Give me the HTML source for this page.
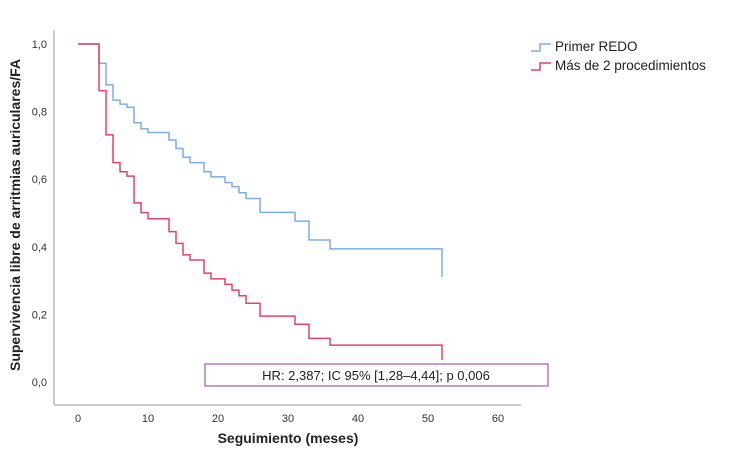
<!DOCTYPE html>
<html><head><meta charset="utf-8"><style>
body{margin:0;background:#fff;}
svg{display:block;font-family:"Liberation Sans",sans-serif;}
</style></head><body>
<svg id="chart" width="750" height="450">
<line x1="54" y1="30" x2="54" y2="405" stroke="#bbb" stroke-width="1.5"/>
<line x1="54" y1="405" x2="521" y2="405" stroke="#bbb" stroke-width="1.5"/>
<g id="yt"></g>
<g id="xt"></g>
<g id="series"></g>
<text x="0" y="0" transform="translate(20,215) rotate(-90)" text-anchor="middle" font-size="14" font-weight="bold" fill="#222">Supervivencia libre de arritmias auriculares/FA</text>
<text x="288" y="443" text-anchor="middle" font-size="14" font-weight="bold" fill="#222">Seguimiento (meses)</text>
<g>
<g>
<path d="M531 51 H540 V44 H551" fill="none" stroke="#7aaeea" stroke-width="1.5"/>
<text x="555" y="51" font-size="13.5" fill="#222">Primer REDO</text></g>
<g>
<path d="M531 70 H540 V63 H551" fill="none" stroke="#e0436b" stroke-width="1.5"/>
<text x="555" y="70" font-size="13.5" fill="#222">Más de 2 procedimientos</text></g>
</g>
<rect x="205" y="364" width="343" height="22" fill="#fff" stroke="#b57cc0" stroke-width="1.5"/>
<text x="376" y="380" text-anchor="middle" font-size="13" fill="#222">HR: 2,387; IC 95% [1,28–4,44]; p 0,006</text>
</svg>
<script>
const xTicks=[0,10,20,30,40,50,60];
const yTicks=[0,0.2,0.4,0.6,0.8,1.0];
const blueT=[0,3,4,5,6,7,8,9,10,13,14,15,16,18,19,21,22,23,24,26,31,33,36,52];
const blueS=[1,0.943,0.879,0.834,0.822,0.813,0.767,0.749,0.738,0.716,0.691,0.665,0.649,0.622,0.607,0.590,0.578,0.560,0.543,0.502,0.476,0.42,0.394,0.311];
const redT=[0,3,4,5,6,7,8,9,10,13,14,15,16,18,19,21,22,23,24,26,31,33,36,52];
const redS=[1,0.862,0.731,0.649,0.622,0.609,0.530,0.501,0.483,0.445,0.41,0.376,0.361,0.322,0.305,0.289,0.272,0.255,0.233,0.195,0.171,0.129,0.109,0.065];
const X=t=>78+t*7, Y=v=>382-v*338;
const ns='http://www.w3.org/2000/svg';
const yt=document.getElementById('yt'), xt=document.getElementById('xt'), sg=document.getElementById('series');
yTicks.forEach(v=>{const e=document.createElementNS(ns,'text');e.setAttribute('x',47);e.setAttribute('y',Y(v)+4);e.setAttribute('text-anchor','end');e.setAttribute('font-size','11');e.setAttribute('fill','#333');e.textContent=v.toFixed(1).replace('.',',');


yt.appendChild(e);});
xTicks.forEach(v=>{const e=document.createElementNS(ns,'text');e.setAttribute('x',X(v));e.setAttribute('y',422);e.setAttribute('text-anchor','middle');e.setAttribute('font-size','11');e.setAttribute('fill','#333');e.textContent=v;


xt.appendChild(e);});
function step(T,S,color,name){let d='M'+X(T[0])+' '+Y(S[0]);for(let i=1;i<T.length;i++){d+=' H'+X(T[i])+' V'+Y(S[i]);}
const p=document.createElementNS(ns,'path');p.setAttribute('d',d);p.setAttribute('fill','none');p.setAttribute('stroke',color);p.setAttribute('stroke-width','1.5');


sg.appendChild(p);}
step(blueT,blueS,'#7aaeea','primer-redo-curve');
step(redT,redS,'#e0436b','mas-de-2-curve');
</script>
</body></html>
